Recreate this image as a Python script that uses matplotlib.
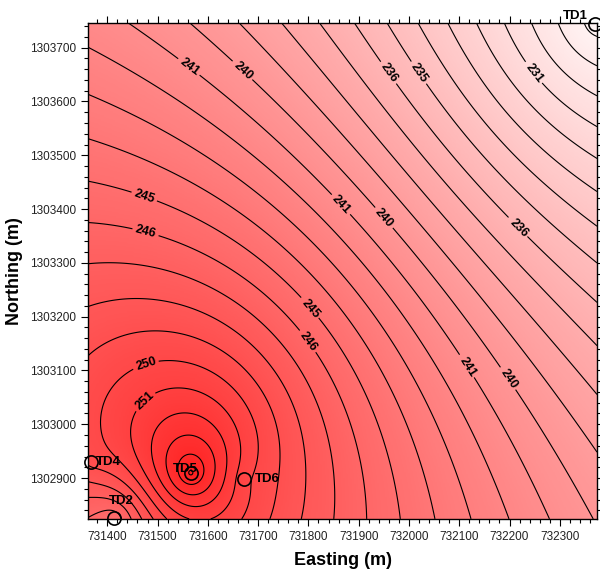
"""Water level contour map of the TD wells"""
import numpy as np
import matplotlib
matplotlib.use("Agg")
import matplotlib.pyplot as plt
from matplotlib.colors import LinearSegmentedColormap

# Well locations (UTM, m) and observed heads (m)
WELLS = ["TD1", "TD2", "TD4", "TD5", "TD6"]
EASTING = [732370, 731414, 731368, 731566, 731672]
NORTHING = [1303744, 1302826, 1302930, 1302909, 1302899]
HEAD = [227.6, 245.3, 249.3, 255.2, 250.3]

# Grid extent
X_MIN, X_MAX = 731362, 732374
Y_MIN, Y_MAX = 1302824, 1303746

# Contour labels (approximate spots on the map)
LABEL_POS = [
    (731552, 1303650), (731660, 1303645), (731948, 1303645), (732002, 1303641),
    (732234, 1303641), (731471, 1303414), (731475, 1303352), (731859, 1303403),
    (731946, 1303380), (732215, 1303362), (731803, 1303213), (731799, 1303153),
    (732115, 1303105), (732195, 1303082), (731475, 1303120), (731465, 1303055),
]

# label offsets in points (dx, dy)
WELL_LABEL_OFF = {"TD1": (-14, 6), "TD2": (5, 12), "TD4": (12, 0),
                  "TD5": (-4, 3), "TD6": (17, 0)}


def krige_linear(xw, yw, zw, gx, gy):
    """Ordinary kriging with a linear variogram (dual form)."""
    xw, yw, zw = map(np.asarray, (xw, yw, zw))
    n = len(zw)
    d = np.hypot(xw[:, None] - xw[None, :], yw[:, None] - yw[None, :])
    A = np.ones((n + 1, n + 1))
    A[:n, :n] = d
    A[n, n] = 0.0
    rhs = np.append(zw, 0.0)
    sol = np.linalg.solve(A, rhs)
    a, b = sol[:n], sol[n]
    r = np.hypot(gx[..., None] - xw, gy[..., None] - yw)
    return r @ a + b


gx, gy = np.meshgrid(np.linspace(X_MIN, X_MAX, 400), np.linspace(Y_MIN, Y_MAX, 400))
gz = krige_linear(EASTING, NORTHING, HEAD, gx, gy)

plt.rcParams["font.family"] = ["Liberation Sans", "DejaVu Sans"]

fig = plt.figure(figsize=(6.0, 5.74), dpi=100)
ax = fig.add_axes([0.147, 0.096, 0.848, 0.864])

cmap = LinearSegmentedColormap.from_list("wr", ["#fff6f6", "#ff1e1e"])
ax.imshow(gz, origin="lower", extent=(X_MIN, X_MAX, Y_MIN, Y_MAX),
          cmap=cmap, vmin=227.5, vmax=255.5, aspect="auto", interpolation="bilinear")

levels = np.arange(220, 261, 1)
cs = ax.contour(gx, gy, gz, levels=levels, colors="black", linewidths=0.8)
ax.clabel(cs, fmt="%.0f", fontsize=9, inline=True, inline_spacing=3,
          manual=LABEL_POS)
for t in cs.labelTexts:
    t.set_fontweight("bold")

# wells
ax.plot(EASTING, NORTHING, "o", mfc="none", mec="black", ms=9.5, mew=1.2,
        clip_on=False, zorder=6)
for name, x, y in zip(WELLS, EASTING, NORTHING):
    dx, dy = WELL_LABEL_OFF[name]
    ax.annotate(name, (x, y), textcoords="offset points", xytext=(dx, dy),
                ha="center", va="center", fontsize=9.5, fontweight="bold",
                annotation_clip=False, zorder=7)

ax.set_xlim(X_MIN, X_MAX)
ax.set_ylim(Y_MIN, Y_MAX)
ax.set_xticks(np.arange(731400, 732400, 100))
ax.set_xticks(np.arange(731380, 732380, 20), minor=True)
ax.set_yticks(np.arange(1302900, 1303800, 100))
ax.set_yticks(np.arange(1302840, 1303760, 20), minor=True)
ax.ticklabel_format(useOffset=False, style="plain")
ax.tick_params(which="both", direction="out", top=True, right=True,
               labelsize=8.5, labelcolor="#222222", width=0.8)
ax.tick_params(which="major", length=5)
ax.tick_params(which="minor", length=3)
for s in ax.spines.values():
    s.set_linewidth(1.0)

ax.set_xlabel("Easting (m)", fontsize=13, fontweight="bold", labelpad=7)
ax.set_ylabel("Northing (m)", fontsize=13, fontweight="bold", labelpad=5)

fig.savefig("out.png", dpi=100)
